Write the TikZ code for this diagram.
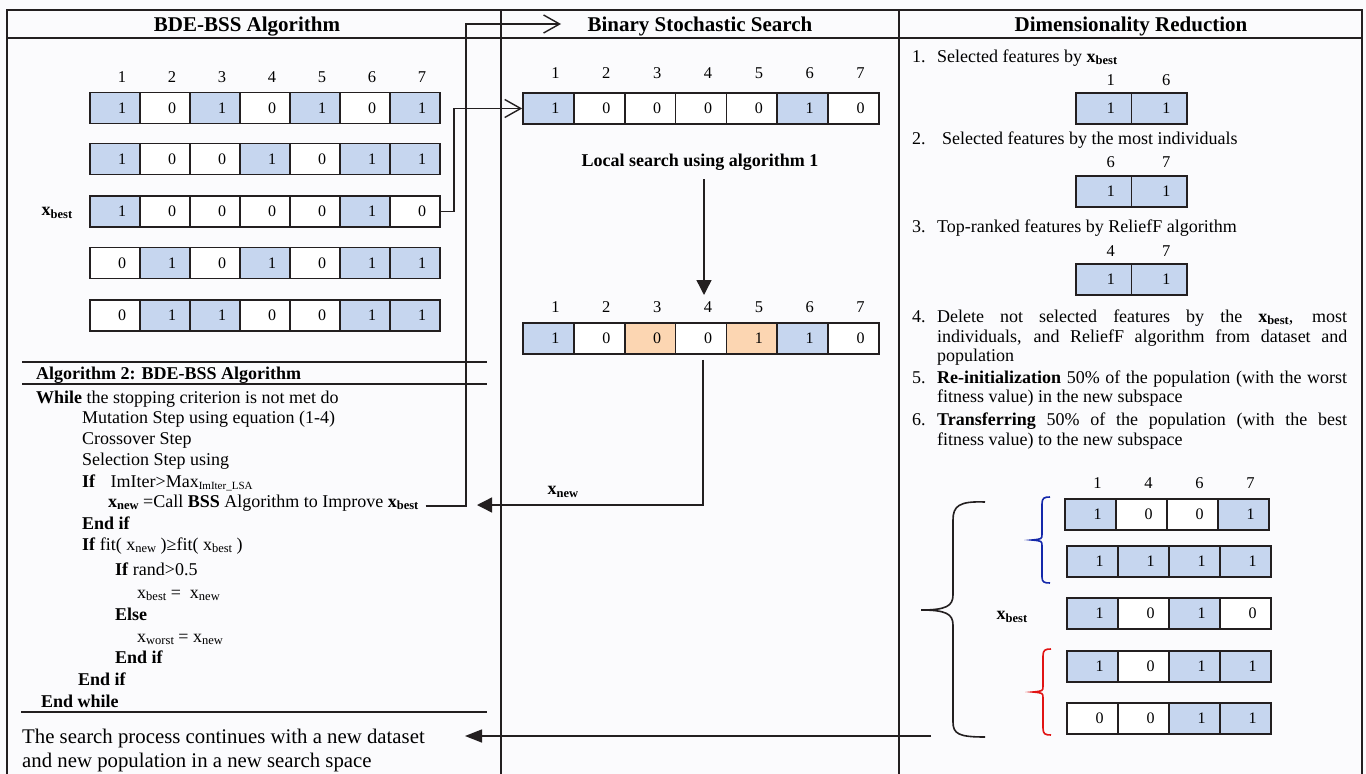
\documentclass[tikz,border=0pt]{standalone}
\usepackage{fontspec}
\setmainfont{Liberation Serif}
\usetikzlibrary{arrows.meta,calc}

\definecolor{cellblue}{RGB}{198,214,239}
\definecolor{cellorange}{RGB}{252,214,178}
\definecolor{cellwhite}{RGB}{255,255,255}
\definecolor{ink}{RGB}{35,31,32}
\definecolor{paper}{RGB}{251,251,253}
\definecolor{braceblue}{RGB}{20,40,170}
\definecolor{bracered}{RGB}{225,20,20}

% font size helper and a lowered subscript
\newcommand{\sz}[1]{\fontsize{#1}{#1}\selectfont}
\newcommand{\lowsub}[2][12.5]{\raisebox{-0.3ex}{\fontsize{#1}{#1}\selectfont #2}}

% a row of bit cells: name, left x, centre y, cell width, value/colour list
\newcommand{\bitrow}[5]{%
  \foreach \v/\col [count=\i] in {#5}
    \node[bitcell, minimum width=#4, fill=\col] (#1-\i) at ({#2+(\i-0.5)*#4}, #3) {\kern14pt\relax\v};
}
% a row of feature indices above the cells
\newcommand{\idxrow}[5]{%
  \foreach \v [count=\i] in {#5}
    \node[idxlabel] (#1-\i) at ({#2+(\i-0.5)*#4+7}, #3) {\v};
}

\begin{document}
\begin{tikzpicture}[x=1pt,y=-1pt,
  frame/.style={draw=ink,line width=1.4pt},
  bitcell/.style={draw=ink,line width=1.7pt,minimum height=31pt,inner sep=0pt,font=\sz{16}},
  idxlabel/.style={inner sep=0pt,font=\sz{16.5}},
  head/.style={anchor=base,inner sep=0pt,font=\bfseries\sz{21}},
  algo/.style={anchor=base west,inner sep=0pt,font=\sz{18}},
  algob/.style={algo,font=\bfseries\sz{18}},
  txt/.style={anchor=base west,inner sep=0pt,font=\sz{18}},
  link/.style={draw=ink,line width=1.4pt},
  openarrow/.style={-{Straight Barb[length=16pt,width=18pt,line width=1.4pt]}},
  solidarrow/.style={-{Triangle[length=15pt,width=14pt]}},
  brace/.style={line width=1.6pt}
]
\useasboundingbox (0,0) rectangle (1366,774);
\fill[paper] (0,0) rectangle (1366,774);

% ---------------- frame and column headers ----------------
\draw[frame] (7,774) -- (7,10) -- (1362,10) -- (1362,774);
\draw[frame] (7,38) -- (1362,38);
\draw[frame] (501,10) -- (501,774);
\draw[frame] (899,10) -- (899,774);

\node[head] (h1) at (247,31) {BDE-BSS Algorithm};
\node[head] (h2) at (700,31) {Binary Stochastic Search};
\node[head] (h3) at (1131,31) {Dimensionality Reduction};

% ---------------- left column: population ----------------
\idxrow{Li}{90}{77}{50}{1,2,3,4,5,6,7}
\bitrow{L1}{90}{108}{50}{1/cellblue,0/cellwhite,1/cellblue,0/cellwhite,1/cellblue,0/cellwhite,1/cellblue}
\bitrow{L2}{90}{159}{50}{1/cellblue,0/cellwhite,0/cellwhite,1/cellblue,0/cellwhite,1/cellblue,1/cellblue}
\bitrow{L3}{90}{211.5}{50}{1/cellblue,0/cellwhite,0/cellwhite,0/cellwhite,0/cellwhite,1/cellblue,0/cellwhite}
\bitrow{L4}{90}{263}{50}{0/cellwhite,1/cellblue,0/cellwhite,1/cellblue,0/cellwhite,1/cellblue,1/cellblue}
\bitrow{L5}{90}{315.5}{50}{0/cellwhite,1/cellblue,1/cellblue,0/cellwhite,0/cellwhite,1/cellblue,1/cellblue}
\node[inner sep=0pt,font=\bfseries\sz{18}] (xbl) at (57,213) {x\lowsub{best}};

% ---------------- left column: algorithm ----------------
\draw[frame] (22,362) -- (487,362);
\draw[frame] (22,384) -- (487,384);
\node[algob] (a0) at (36,379) {Algorithm 2: BDE-BSS Algorithm};
\node[algo] (a1) at (36,403) {\textbf{While} the stopping criterion is not met do};
\node[algo] (a2) at (82,423) {Mutation Step using equation (1-4)};
\node[algo] (a3) at (82,444) {Crossover Step};
\node[algo] (a4) at (82,465) {Selection Step using};
\node[algo] (a5) at (82,487) {\textbf{If}\hspace{0.6em} ImIter>Max\lowsub[11]{ImIter\_LSA}};
\node[algo] (a6) at (108,507) {\textbf{x\lowsub{new}} =Call \textbf{BSS} Algorithm to Improve \textbf{x\lowsub{best}}};
\node[algob] (a7) at (82,529) {End if};
\node[algo] (a8) at (82,550) {\textbf{If} fit( x\lowsub{new} )≥fit( x\lowsub{best} )};
\node[algo] (a9) at (115,575) {\textbf{If} rand>0.5};
\node[algo] (a10) at (137,598) {x\lowsub{best} =\ \ x\lowsub{new}};
\node[algob] (a11) at (115,620) {Else};
\node[algo] (a12) at (137,642) {x\lowsub{worst} = x\lowsub{new}};
\node[algob] (a13) at (115,663) {End if};
\node[algob] (a14) at (78,685) {End if};
\node[algob] (a15) at (41,707) {End while};
\draw[frame] (21,712) -- (487,712);

\node[anchor=base west,inner sep=0pt,font=\sz{20.8}] (cont1) at (22,743) {The search process continues with a new dataset};
\node[anchor=base west,inner sep=0pt,font=\sz{20.8}] (cont2) at (22,767) {and new population in a new search space};

% ---------------- middle column: binary stochastic search ----------------
\idxrow{Mi}{523}{73}{50.86}{1,2,3,4,5,6,7}
\bitrow{M1}{523}{108.5}{50.86}{1/cellblue,0/cellwhite,0/cellwhite,0/cellwhite,0/cellwhite,1/cellblue,0/cellwhite}
\node[anchor=base,inner sep=0pt,font=\bfseries\sz{18}] (lsa) at (700,166) {Local search using algorithm 1};
\idxrow{Mj}{523}{307}{50.86}{1,2,3,4,5,6,7}
\bitrow{M2}{523}{338.5}{50.86}{1/cellblue,0/cellwhite,0/cellorange,0/cellwhite,1/cellorange,1/cellblue,0/cellwhite}
\node[inner sep=0pt,font=\bfseries\sz{18}] (xnl) at (563,492) {x\lowsub{new}};

% ---------------- right column: dimensionality reduction ----------------
\node[txt] (n1) at (912,62) {1.};
\node[txt] (t1) at (937,62) {Selected features by \textbf{x\lowsub{best}}};
\idxrow{RaI}{1076}{80}{55.5}{1,6}
\bitrow{RaB}{1076}{108.5}{55.5}{1/cellblue,1/cellblue}

\node[txt] (n2) at (912,144) {2.};
\node[txt] (t2) at (942,144) {Selected features by the most individuals};
\idxrow{RbI}{1076}{162}{55.5}{6,7}
\bitrow{RbB}{1076}{191.5}{55.5}{1/cellblue,1/cellblue}

\node[txt] (n3) at (912,232) {3.};
\node[txt] (t3) at (937,232) {Top-ranked features by ReliefF algorithm};
\idxrow{RcI}{1076}{251}{55.5}{4,7}
\bitrow{RcB}{1076}{279.5}{55.5}{1/cellblue,1/cellblue}

\node[txt] (n4) at (912,322) {4.};
\node[txt] (t4a) at (937,322) {\hbox to 410pt{Delete not selected features by the \textbf{x\lowsub{best}}, most}};
\node[txt] (t4b) at (937,342) {\hbox to 410pt{individuals, and ReliefF algorithm from dataset and}};
\node[txt] (t4c) at (937,361) {population};
\node[txt] (n5) at (912,383) {5.};
\node[txt] (t5a) at (937,383) {\hbox to 410pt{\textbf{Re-initialization} 50\% of the population (with the worst}};
\node[txt] (t5b) at (937,402) {fitness value) in the new subspace};
\node[txt] (n6) at (912,425) {6.};
\node[txt] (t6a) at (937,425) {\hbox to 410pt{\textbf{Transferring} 50\% of the population (with the best}};
\node[txt] (t6b) at (937,445) {fitness value) to the new subspace};

% new population in the reduced space
\idxrow{RpI}{1065}{483}{51}{1,4,6,7}
\bitrow{Rp1}{1065}{514.5}{51}{1/cellblue,0/cellwhite,0/cellwhite,1/cellblue}
\bitrow{Rp2}{1067}{561.5}{51}{1/cellblue,1/cellblue,1/cellblue,1/cellblue}
\bitrow{Rp3}{1067}{613.5}{51}{1/cellblue,0/cellwhite,1/cellblue,0/cellwhite}
\bitrow{Rp4}{1067}{666.5}{51}{1/cellblue,0/cellwhite,1/cellblue,1/cellblue}
\bitrow{Rp5}{1067}{718.5}{51}{0/cellwhite,0/cellwhite,1/cellblue,1/cellblue}
\node[inner sep=0pt,font=\bfseries\sz{18}] (xbr) at (1012,617) {x\lowsub{best}};

% braces grouping the population
\draw[brace,draw=ink] (985,502) .. controls (959,501) and (953,506) .. (953,520) -- (953,595)
  .. controls (953,606) and (946,610) .. (921,610)
  .. controls (946,610) and (953,614) .. (953,625) -- (953,722)
  .. controls (953,734) and (959,737) .. (985,737);
\draw[brace,draw=braceblue] (1050,497) .. controls (1044,497) and (1042,498) .. (1042,504) -- (1042,534)
  .. controls (1042,539) .. (1032,540) .. controls (1042,541) .. (1042,546) -- (1042,577)
  .. controls (1042,582) and (1044,583) .. (1050,583);
\draw[brace,draw=bracered] (1051,649) .. controls (1045,649) and (1043,650) .. (1043,656) -- (1043,686)
  .. controls (1043,691) .. (1033,692) .. controls (1043,693) .. (1043,698) -- (1043,728)
  .. controls (1043,734) and (1045,735) .. (1051,735);

% ---------------- connectors ----------------
\draw[link,openarrow] (L3-7.east) -- ++(13,0) |- (M1-1.west);

\coordinate (callend) at ($(a6.base east)+(7,-1)$);
\coordinate (bssturn) at (466,24);
\coordinate (bssin) at (561,24);
\draw[link,openarrow] (callend) -| (bssturn) -- (bssin);

\coordinate (lsdown) at (704,179);
\coordinate (lsend) at (704,295);
\draw[link,-{Triangle[length=15pt,width=15pt]}] (lsdown) -- (lsend);

\coordinate (xnewtip) at (477,505);
\draw[link,-{Triangle[length=15pt,width=15pt]}] ($(M2-4.south)+(2,5)$) |- (xnewtip);

\coordinate (restartfrom) at (931,736);
\coordinate (restarttip) at (465,736);
\draw[link,-{Triangle[length=17pt,width=13pt]}] (restartfrom) -- (restarttip);

\end{tikzpicture}
\end{document}
